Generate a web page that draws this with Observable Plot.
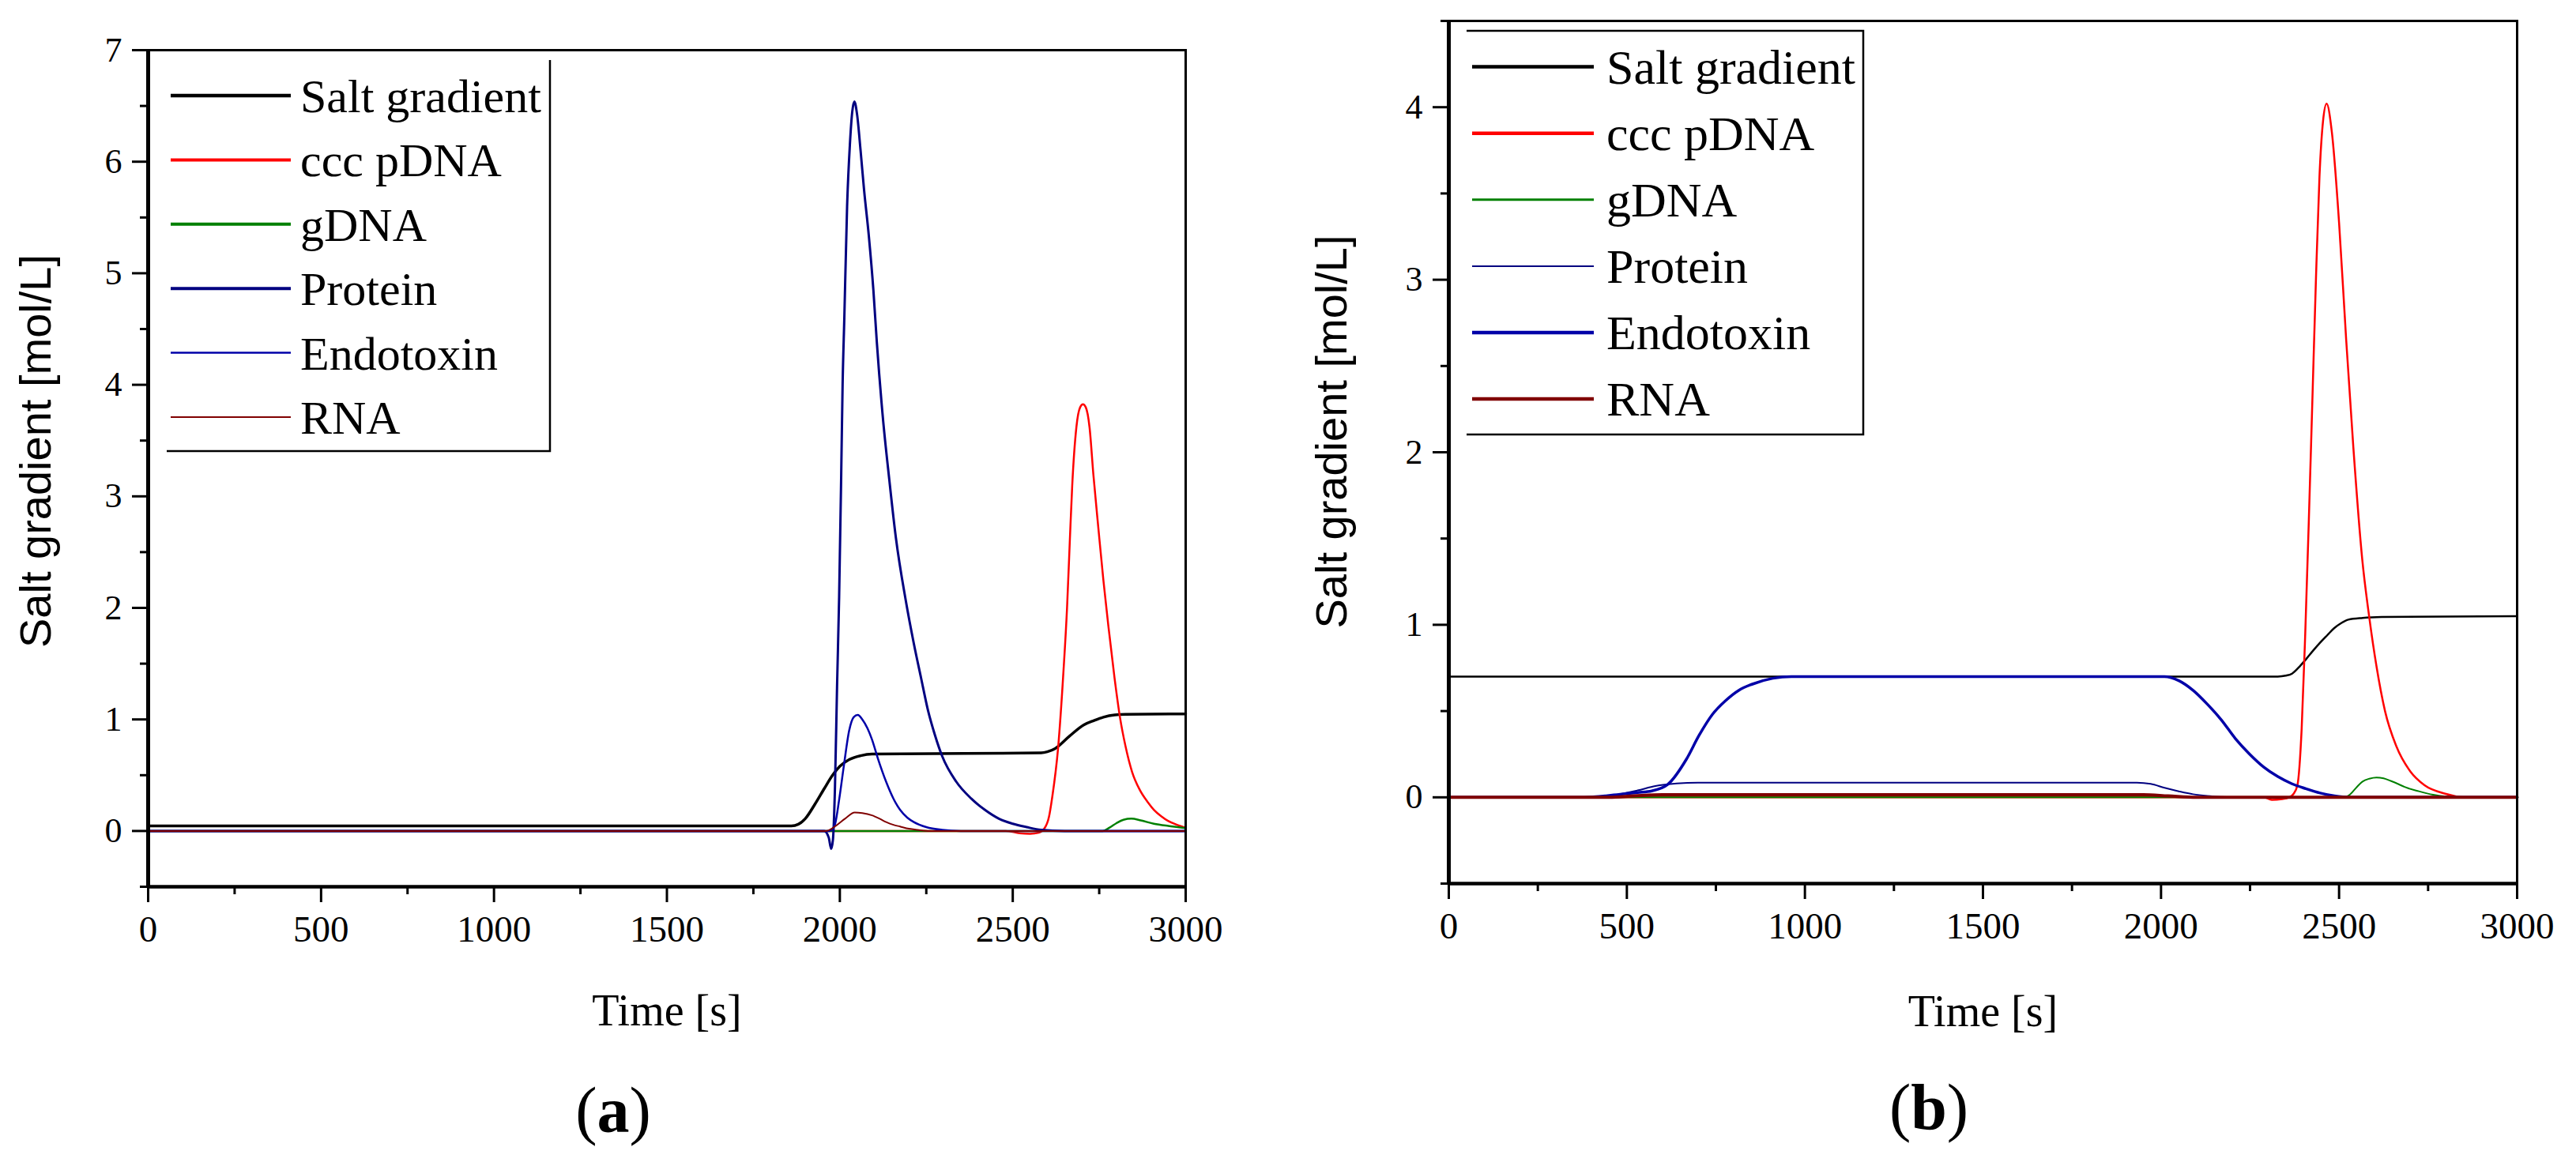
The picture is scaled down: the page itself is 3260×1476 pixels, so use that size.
<!DOCTYPE html>
<html>
<head>
<meta charset="utf-8">
<script src="https://cdn.jsdelivr.net/npm/d3@7"></script>
<script src="https://cdn.jsdelivr.net/npm/@observablehq/plot@0.6"></script>
<style>
  html, body { margin: 0; padding: 0; background: #fff; }
  #fig { position: relative; width: 3260px; height: 1476px; overflow: hidden; background: #fff; }
  .panel { position: absolute; top: 0; }
  .cap { position: absolute; font-family: "Liberation Serif", serif; font-size: 82px; line-height: 82px;
         transform: translateX(-50%); white-space: nowrap; color: #000; }
</style>
</head>
<body>
<div id="fig">
  <div id="chart-a" class="panel" style="left:0; width:1560px"></div>
  <div id="chart-b" class="panel" style="left:1640px; width:1605px"></div>
  <div class="cap" style="left:776px; top:1365px">(<b>a</b>)</div>
  <div class="cap" style="left:2441px; top:1361px">(<b>b</b>)</div>
</div>
<script>
// series and colours (same order as the legend)
const seriesNames = ["Salt gradient", "ccc pDNA", "gDNA", "Protein", "Endotoxin", "RNA"];
const seriesColors = ["#000000", "#ff0000", "#008000", "#000080", "#0000a8", "#800000"];

const timeDomain = [0, 3000];
const xMajor = [0, 500, 1000, 1500, 2000, 2500, 3000];
const xMinor = [250, 750, 1250, 1750, 2250, 2750];

// ---- panel (a) ----
const yDomainA = [-0.5, 7];
const yMajorA = [0, 1, 2, 3, 4, 5, 6, 7];
const yMinorA = [-0.5, 0.5, 1.5, 2.5, 3.5, 4.5, 5.5, 6.5];

const aSaltT = [0, 1860, 1880, 1900, 1928, 1955, 1979, 2000, 2027, 2060, 2093, 2582, 2600, 2623, 2664, 2705, 2735, 2762, 2795, 2826, 3000];
const aSaltV = [0.045, 0.045, 0.06, 0.11, 0.24, 0.38, 0.50, 0.58, 0.64, 0.675, 0.69, 0.70, 0.71, 0.74, 0.85, 0.95, 0.99, 1.02, 1.04, 1.045, 1.05];

const aPdnaT = [0, 2480, 2520, 2550, 2575, 2591, 2605, 2614, 2631, 2647, 2657, 2665, 2672, 2684, 2695, 2703, 2711, 2722, 2733, 2748, 2762, 2776, 2794, 2810, 2826, 2845, 2867, 2890, 2908, 2930, 2949, 2975, 3000];
const aPdnaV = [0, 0, -0.02, -0.025, -0.015, 0.02, 0.13, 0.3, 0.74, 1.45, 2.0, 2.6, 3.1, 3.62, 3.8, 3.825, 3.8, 3.62, 3.2, 2.7, 2.25, 1.85, 1.38, 1.02, 0.76, 0.53, 0.37, 0.26, 0.19, 0.13, 0.09, 0.055, 0.03];

const aGdnaT = [0, 2760, 2780, 2800, 2820, 2843, 2870, 2908, 2950, 2990, 3000];
const aGdnaV = [0, 0, 0.03, 0.07, 0.1, 0.11, 0.095, 0.065, 0.045, 0.03, 0.025];

const aProtT = [0, 1955, 1968, 1975, 1980, 1986, 1992, 1998, 2004, 2008, 2013, 2021, 2029, 2036, 2042, 2050, 2060, 2070, 2084, 2097, 2107, 2124, 2143, 2162, 2191, 2214, 2235, 2255, 2275, 2296, 2337, 2380, 2419, 2460, 2500, 2540, 2582, 2650, 3000];
const aProtV = [0, 0, -0.06, -0.16, -0.08, 0.4, 1.3, 2.1, 3.2, 4.0, 4.6, 5.6, 6.15, 6.45, 6.54, 6.42, 6.1, 5.75, 5.33, 4.85, 4.38, 3.72, 3.15, 2.63, 2.06, 1.68, 1.37, 1.08, 0.86, 0.67, 0.44, 0.29, 0.19, 0.11, 0.065, 0.035, 0.01, 0, 0];

const aEndoT = [0, 1970, 1985, 1998, 2011, 2027, 2040, 2052, 2065, 2080, 2093, 2110, 2134, 2155, 2174, 2195, 2214, 2250, 2296, 2350, 3000];
const aEndoV = [0, 0, 0.05, 0.28, 0.57, 0.90, 1.02, 1.04, 1.0, 0.92, 0.82, 0.65, 0.44, 0.29, 0.19, 0.12, 0.08, 0.035, 0.01, 0, 0];

const aRnaT = [0, 1960, 1990, 2015, 2043, 2065, 2093, 2115, 2134, 2155, 2174, 2200, 2225, 2260, 3000];
const aRnaV = [0, 0, 0.05, 0.11, 0.165, 0.16, 0.14, 0.11, 0.08, 0.055, 0.04, 0.02, 0.01, 0, 0];

// ---- panel (b) ----
const yDomainB = [-0.5, 4.5];
const yMajorB = [0, 1, 2, 3, 4];
const yMinorB = [-0.5, 0.5, 1.5, 2.5, 3.5, 4.5];

const bSaltT = [0, 2328, 2350, 2368, 2390, 2407, 2427, 2447, 2467, 2486, 2506, 2526, 2566, 2620, 3000];
const bSaltV = [0.70, 0.70, 0.705, 0.717, 0.76, 0.80, 0.85, 0.897, 0.94, 0.98, 1.01, 1.03, 1.04, 1.045, 1.05];

const bPdnaT = [0, 2290, 2311, 2340, 2359, 2372, 2383, 2395, 2405, 2415, 2425, 2435, 2445, 2455, 2465, 2480, 2500, 2520, 2540, 2565, 2585, 2605, 2629, 2660, 2700, 2740, 2800, 2850, 3000];
const bPdnaV = [0, 0, -0.015, -0.01, 0, 0.02, 0.07, 0.4, 0.95, 1.6, 2.3, 3.0, 3.6, 3.92, 4.02, 3.85, 3.33, 2.65, 2.03, 1.38, 1.04, 0.76, 0.50, 0.30, 0.15, 0.07, 0.02, 0, 0];

const bGdnaT = [0, 2515, 2530, 2550, 2565, 2585, 2605, 2625, 2645, 2665, 2684, 2724, 2764, 2800, 2850, 3000];
const bGdnaV = [0, 0, 0.015, 0.06, 0.09, 0.108, 0.115, 0.11, 0.095, 0.078, 0.06, 0.035, 0.015, 0.005, 0, 0];

const bProtT = [0, 400, 470, 530, 580, 640, 700, 1932, 1971, 2010, 2050, 2090, 2130, 2200, 3000];
const bProtV = [0, 0, 0.015, 0.04, 0.065, 0.08, 0.085, 0.085, 0.078, 0.055, 0.035, 0.018, 0.008, 0, 0];

const bEndoT = [0, 380, 440, 481, 530, 570, 615, 667, 703, 740, 777, 814, 851, 910, 962, 2010, 2050, 2090, 2130, 2169, 2209, 2249, 2288, 2328, 2368, 2407, 2447, 2487, 2530, 3000];
const bEndoV = [0, 0, 0.008, 0.018, 0.028, 0.037, 0.075, 0.22, 0.36, 0.48, 0.56, 0.62, 0.655, 0.69, 0.70, 0.70, 0.676, 0.62, 0.54, 0.45, 0.34, 0.25, 0.176, 0.12, 0.078, 0.05, 0.025, 0.008, 0, 0];

const bRnaT = [0, 450, 520, 600, 1950, 2020, 2100, 3000];
const bRnaV = [0, 0, 0.008, 0.015, 0.015, 0.008, 0, 0];

const rows = (t, v) => t.map((d, i) => ({t: d, v: v[i]}));

function panel(el, cfg) {
  const chart = Plot.plot({
    width: cfg.width,
    height: cfg.height,
    marginLeft: cfg.ml,
    marginRight: 60,
    marginTop: cfg.mt,
    marginBottom: 200,
    style: {fontFamily: "'Liberation Serif', serif", color: "black", background: "white", overflow: "visible"},
    x: {domain: timeDomain},
    y: {domain: cfg.yDomain},
    marks: [
      ...cfg.series.map((s, i) => Plot.line(s, {x: "t", y: "v", stroke: seriesColors[i], strokeWidth: cfg.lineW[i], curve: "monotone-x"})),
      Plot.frame({stroke: "black", strokeWidth: 3}),
      Plot.ruleX([timeDomain[0]], {stroke: "black", strokeWidth: 5}),
      Plot.ruleY([cfg.yDomain[0]], {stroke: "black", strokeWidth: 4.5}),
      Plot.axisX({ticks: xMajor, tickSize: 20, tickPadding: 16, fontSize: 47, strokeWidth: 3, tickFormat: d => String(d), label: null}),
      Plot.axisX({ticks: xMinor, tickSize: 10, tickFormat: () => "", strokeWidth: 3, label: null}),
      Plot.axisY({ticks: cfg.yMajor, tickSize: 20, tickPadding: 13, fontSize: 44, strokeWidth: 3, tickFormat: d => String(d), label: null}),
      Plot.axisY({ticks: cfg.yMinor, tickSize: 10, tickFormat: () => "", strokeWidth: 3, label: null}),
      Plot.text(["Salt gradient [mol/L]"], {text: d => d, frameAnchor: "left", rotate: -90, dx: cfg.ytDx, dy: cfg.ytDy,
        fontFamily: "'Liberation Sans', sans-serif", fontSize: 56, textAnchor: "middle", lineAnchor: "middle"}),
      Plot.text(["Time [s]"], {text: d => d, frameAnchor: "bottom", dy: cfg.xtDy, fontSize: 56, lineAnchor: "middle"})
    ]
  });

  // legend box drawn inside the plot svg
  const L = cfg.legend;
  const g = d3.select(chart).append("g").attr("text-anchor", "start");
  g.append("path")
    .attr("d", L.path)
    .attr("fill", "none")
    .attr("stroke", "black")
    .attr("stroke-width", 2.5);
  seriesNames.forEach((name, i) => {
    const y = L.y0 + i * L.dy;
    g.append("line")
      .attr("x1", L.x1).attr("x2", L.x2).attr("y1", y).attr("y2", y)
      .attr("stroke", seriesColors[i]).attr("stroke-width", cfg.legW[i]);
    g.append("text")
      .attr("x", L.tx).attr("y", y + 21)
      .attr("text-anchor", "start")
      .attr("font-family", "'Liberation Serif', serif")
      .attr("font-size", L.fs)
      .attr("fill", "black")
      .text(name);
  });

  d3.select(el).append(() => chart);
}

panel("#chart-a", {
  width: 1560, height: 1322, ml: 187, mt: 63,
  yDomain: yDomainA, yMajor: yMajorA, yMinor: yMinorA,
  series: [rows(aSaltT, aSaltV), rows(aPdnaT, aPdnaV), rows(aGdnaT, aGdnaV), rows(aProtT, aProtV), rows(aEndoT, aEndoV), rows(aRnaT, aRnaV)],
  lineW: [3.5, 2.5, 2.5, 3, 2.5, 2],
  legW: [4.5, 4, 4, 4, 2.5, 2],
  ytDx: -141, ytDy: -22, xtDy: 158,
  legend: {path: "M696,76V571H211", x1: 216, x2: 368, tx: 380, y0: 121, dy: 81.4, fs: 60}
});

panel("#chart-b", {
  width: 1605, height: 1318, ml: 193, mt: 26,
  yDomain: yDomainB, yMajor: yMajorB, yMinor: yMinorB,
  series: [rows(bSaltT, bSaltV), rows(bPdnaT, bPdnaV), rows(bGdnaT, bGdnaV), rows(bProtT, bProtV), rows(bEndoT, bEndoV), rows(bRnaT, bRnaV)],
  lineW: [2.5, 2.5, 2, 2, 3.5, 4],
  legW: [4.5, 4.5, 3, 2, 4.5, 4.5],
  ytDx: -147, ytDy: -26, xtDy: 163,
  legend: {path: "M216,39H718V550H216", x1: 223, x2: 377, tx: 393, y0: 84.6, dy: 84.1, fs: 62}
});
</script>
</body>
</html>
